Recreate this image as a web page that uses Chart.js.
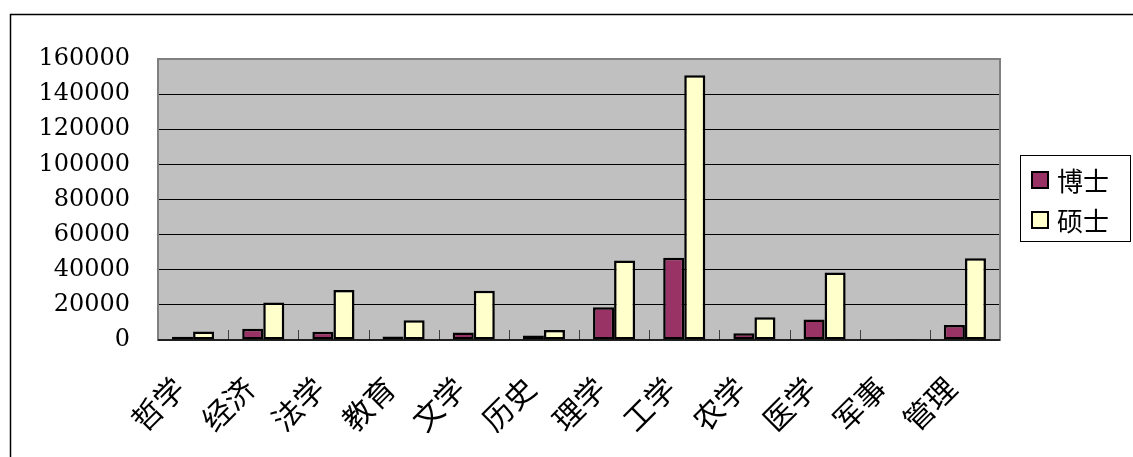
<!DOCTYPE html>
<html>
<head>
<meta charset="utf-8">
<script src="https://cdn.jsdelivr.net/npm/chart.js@4.4.1/dist/chart.umd.min.js"></script>
<style>
  html, body { margin: 0; padding: 0; background: #fff; }
  #wrap { width: 1133px; height: 457px; position: relative; }
</style>
</head>
<body>
<div id="wrap"><canvas id="c" width="1133" height="457"></canvas></div>
<script>
const categories = ['哲学', '经济', '法学', '教育', '文学', '历史', '理学', '工学', '农学', '医学', '军事', '管理'];
const doctorValues = [1800, 6400, 4700, 2000, 4300, 2500, 18600, 46800, 3800, 11700, 100, 8600];
const masterValues = [4900, 21300, 28500, 11200, 28100, 5700, 45200, 150700, 12900, 38400, 500, 46500];
const seriesNames = ['博士', '硕士'];
const seriesColors = ['#993366', '#FFFFCC'];
const yTicks = [0, 20000, 40000, 60000, 80000, 100000, 120000, 140000, 160000];

const decor = {
  id: 'decor',
  beforeDraw(chart) {
    const ctx = chart.ctx, a = chart.chartArea;
    ctx.save();
    ctx.fillStyle = '#fff';
    ctx.fillRect(0, 0, chart.width, chart.height);
    ctx.strokeStyle = '#000';
    ctx.lineWidth = 1.5;
    ctx.strokeRect(10.5, 14.5, 3000, 3000);
    ctx.fillStyle = '#C0C0C0';
    ctx.fillRect(a.left, a.top, a.right - a.left, a.bottom - a.top);
    ctx.restore();
  },
  beforeDatasetsDraw(chart) {
    const ctx = chart.ctx, a = chart.chartArea, xs = chart.scales.x;
    ctx.save();
    ctx.strokeStyle = '#808080';
    ctx.lineWidth = 2;
    ctx.strokeRect(a.left, a.top, a.right - a.left, a.bottom - a.top);
    ctx.strokeStyle = '#404040';
    ctx.lineWidth = 1;
    for (let i = 1; i < categories.length; i++) {
      const x = Math.round((xs.getPixelForValue(i - 1) + xs.getPixelForValue(i)) / 2) + 0.5;
      ctx.beginPath();
      ctx.moveTo(x, a.bottom);
      ctx.lineTo(x, a.bottom - 10);
      ctx.stroke();
    }
    ctx.restore();
  },
  afterDatasetsDraw(chart) {
    const ctx = chart.ctx, a = chart.chartArea;
    ctx.save();
    ctx.strokeStyle = '#000';
    ctx.lineWidth = 1.5;
    ctx.beginPath();
    ctx.moveTo(a.left, a.bottom);
    ctx.lineTo(a.right, a.bottom);
    ctx.stroke();
    ctx.restore();
  },
  afterDraw(chart) {
    const ctx = chart.ctx;
    ctx.save();
    ctx.strokeStyle = '#000';
    ctx.lineWidth = 1;
    ctx.strokeRect(1020.5, 155.5, 110, 86);
    const ys = [180, 220];
    chart.data.datasets.forEach((ds, i) => {
      ctx.fillStyle = ds.backgroundColor;
      ctx.fillRect(1032, ys[i] - 8, 16, 16);
      ctx.lineWidth = 2;
      ctx.strokeRect(1032, ys[i] - 8, 16, 16);
      ctx.fillStyle = '#000';
      ctx.font = '26px "Noto Sans CJK SC"';
      ctx.textBaseline = 'middle';
      ctx.textAlign = 'left';
      ctx.fillText(ds.label, 1057, ys[i] + 1);
    });
    ctx.restore();
  }
};

new Chart(document.getElementById('c'), {
  type: 'bar',
  data: {
    labels: categories,
    datasets: [
      { label: seriesNames[0], data: doctorValues, backgroundColor: seriesColors[0], borderColor: '#000', borderWidth: 2.5, borderSkipped: false },
      { label: seriesNames[1], data: masterValues, backgroundColor: seriesColors[1], borderColor: '#000', borderWidth: 2.5, borderSkipped: false }
    ]
  },
  options: {
    responsive: false,
    animation: false,
    events: [],
    layout: { padding: { left: 10, top: 59, right: 133, bottom: 0 } },
    datasets: { bar: { categoryPercentage: 0.6, barPercentage: 1.0 } },
    plugins: { legend: { display: false }, tooltip: { enabled: false }, title: { display: false } },
    scales: {
      x: {
        grid: { display: false, drawTicks: false },
        border: { display: false },
        ticks: {
          color: '#000',
          font: { family: '"Noto Sans CJK SC"', size: 30 },
          minRotation: 45, maxRotation: 45,
          padding: 30,
          labelOffset: -14,
          autoSkip: false
        },
        afterFit(scale) { scale.height = 117; }
      },
      y: {
        min: 0, max: 160000,
        afterBuildTicks(scale) { scale.ticks = yTicks.map(v => ({ value: v })); },
        grid: { color: '#000', lineWidth: 1, drawTicks: false },
        border: { display: false },
        ticks: {
          color: '#000',
          font: { family: '"DejaVu Serif", "Liberation Serif", serif', size: 24 },
          padding: 28,
          callback: v => String(v)
        },
        afterFit(scale) { scale.width = 148; }
      }
    }
  },
  plugins: [decor]
});
</script>
</body>
</html>
